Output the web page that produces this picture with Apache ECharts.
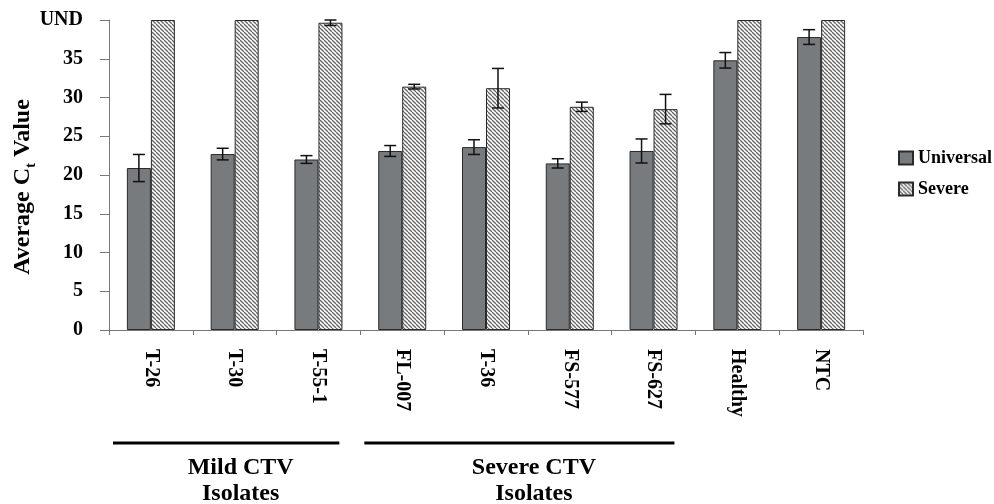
<!DOCTYPE html>
<html>
<head>
<meta charset="utf-8">
<script src="https://cdn.jsdelivr.net/npm/echarts@6/dist/echarts.min.js"></script>
<style>
  html, body { margin: 0; padding: 0; background: #fff; }
  #chart { width: 994px; height: 504px; }
</style>
</head>
<body>
<div id="chart"></div>
<script>
// data (40 on the axis = UND)
const categories = ['T-26', 'T-30', 'T-55-1', 'FL-007', 'T-36', 'FS-577', 'FS-627', 'Healthy', 'NTC'];
const universal = [20.9, 22.7, 22.0, 23.1, 23.6, 21.5, 23.1, 34.8, 37.8];
const universalErr = [1.75, 0.75, 0.5, 0.7, 0.95, 0.6, 1.55, 1.0, 0.95];
const severe = [40, 40, 39.65, 31.4, 31.2, 28.8, 28.5, 40, 40];
const severeErr = [0, 0, 0.35, 0.3, 2.55, 0.6, 1.9, 0, 0];
const yTicks = [0, 5, 10, 15, 20, 25, 30, 35, 40];
const undValue = 40;
const groups = [
    {from: 0, to: 2, label: ['Mild CTV', 'Isolates']},
    {from: 3, to: 6, label: ['Severe CTV', 'Isolates']}
];

const FONT = '"Liberation Serif", "Times New Roman", serif';

// diagonal hatch for the Severe bars
function makeHatch(){
    const s = 4;
    const c = document.createElement('canvas');
    c.width = s; c.height = s;
    const ctx = c.getContext('2d');
    ctx.fillStyle = '#fff';
    ctx.fillRect(0, 0, s, s);
    ctx.strokeStyle = '#666';
    ctx.lineWidth = 1.3;
    [-s, 0, s].forEach(d => {
        ctx.beginPath();
        ctx.moveTo(d, 0);
        ctx.lineTo(d + s, s);
        ctx.stroke();
    });
    return c;
}
const hatch = {image: makeHatch(), repeat: 'repeat'};

function errData(vals, errs){
    return vals.map((v, i) => errs[i] > 0 ? [i, v - errs[i], v + errs[i]] : [i, null, null]);
}

function errSeries(name, vals, errs, offset){
    return {
        name: name + ' err',
        type: 'custom',
        silent: true,
        z: 5,
        data: errData(vals, errs),
        renderItem: function(params, api){
            if (api.value(1) == null || isNaN(api.value(1))) return;
            const lo = api.coord([api.value(0), api.value(1)]);
            const hi = api.coord([api.value(0), api.value(2)]);
            const x = lo[0] + offset;
            const cap = 6;
            const style = {stroke: '#111', lineWidth: 1.5};
            return {
                type: 'group',
                children: [
                    {type: 'line', shape: {x1: x, y1: lo[1], x2: x, y2: hi[1]}, style: style},
                    {type: 'line', shape: {x1: x - cap, y1: lo[1], x2: x + cap, y2: lo[1]}, style: style},
                    {type: 'line', shape: {x1: x - cap, y1: hi[1], x2: x + cap, y2: hi[1]}, style: style}
                ]
            };
        }
    };
}

const chart = echarts.init(document.getElementById('chart'));

const option = {
    animation: false,
    backgroundColor: '#fff',
    textStyle: {fontFamily: FONT},
    grid: {left: 109, right: 131, top: 20, bottom: 174},
    legend: {
        orient: 'vertical',
        left: 893,
        top: 144,
        icon: 'rect',
        itemWidth: 14,
        itemHeight: 13,
        itemGap: 13,
        data: ['Universal', 'Severe'],
        textStyle: {fontFamily: FONT, fontWeight: 'bold', fontSize: 18, color: '#000'}
    },
    xAxis: {
        type: 'category',
        data: categories,
        axisLine: {lineStyle: {color: '#777', width: 1}},
        axisTick: {show: true, length: 5, lineStyle: {color: '#777'}},
        axisLabel: {
            rotate: -90,
            margin: 19,
            interval: 0,
            fontFamily: FONT,
            fontWeight: 'bold',
            fontSize: 20,
            color: '#000'
        }
    },
    yAxis: {
        type: 'value',
        min: yTicks[0],
        max: yTicks[yTicks.length - 1],
        interval: 5,
        splitLine: {show: false},
        axisLine: {show: true, lineStyle: {color: '#777', width: 1}},
        axisTick: {show: true, length: 9, lineStyle: {color: '#777'}},
        axisLabel: {
            margin: 26,
            fontFamily: FONT,
            fontWeight: 'bold',
            fontSize: 20,
            color: '#000',
            formatter: v => v === undValue ? 'UND' : String(v)
        }
    },
    series: [
        {
            name: 'Universal',
            type: 'bar',
            data: universal,
            barWidth: 24,
            barGap: '0%',
            itemStyle: {color: '#777b7e', borderColor: '#2a2a2a', borderWidth: 1}
        },
        {
            name: 'Severe',
            type: 'bar',
            data: severe,
            barWidth: 24,
            barGap: '0%',
            itemStyle: {color: hatch, borderColor: '#2a2a2a', borderWidth: 1}
        },
        errSeries('Universal', universal, universalErr, -12),
        errSeries('Severe', severe, severeErr, 12)
    ],
    graphic: [{
        type: 'text',
        x: 27,
        y: 187,
        rotation: Math.PI / 2,
        style: {
            text: '{a|Average C}{s|t}{a| Value}',
            align: 'center',
            verticalAlign: 'middle',
            rich: {
                a: {fontFamily: FONT, fontWeight: 'bold', fontSize: 24, lineHeight: 24, padding: [0, 0, 4, 0], fill: '#000', verticalAlign: 'bottom'},
                s: {fontFamily: FONT, fontWeight: 'bold', fontSize: 15, lineHeight: 15, padding: [13, 0, 0, 0], fill: '#000', verticalAlign: 'bottom'}
            }
        }
    }]
};

chart.setOption(option);

// group brackets under the axis labels, placed from the axis scale
const c0 = chart.convertToPixel({xAxisIndex: 0}, 0);
const c1 = chart.convertToPixel({xAxisIndex: 0}, 1);
const band = c1 - c0;
const extra = [];
groups.forEach(g => {
    const left = chart.convertToPixel({xAxisIndex: 0}, g.from) - band / 2;
    const right = chart.convertToPixel({xAxisIndex: 0}, g.to) + band / 2;
    extra.push({
        type: 'line',
        shape: {x1: left + 4, y1: 443, x2: right - 21, y2: 443},
        style: {stroke: '#000', lineWidth: 3}
    });
    extra.push({
        type: 'text',
        x: (left + right) / 2 + 6,
        y: 481,
        style: {
            text: g.label.join('\n'),
            align: 'center',
            verticalAlign: 'middle',
            lineHeight: 26,
            font: 'bold 24px ' + FONT,
            fill: '#000'
        }
    });
});
chart.setOption({graphic: option.graphic.concat(extra)});
</script>
</body>
</html>
